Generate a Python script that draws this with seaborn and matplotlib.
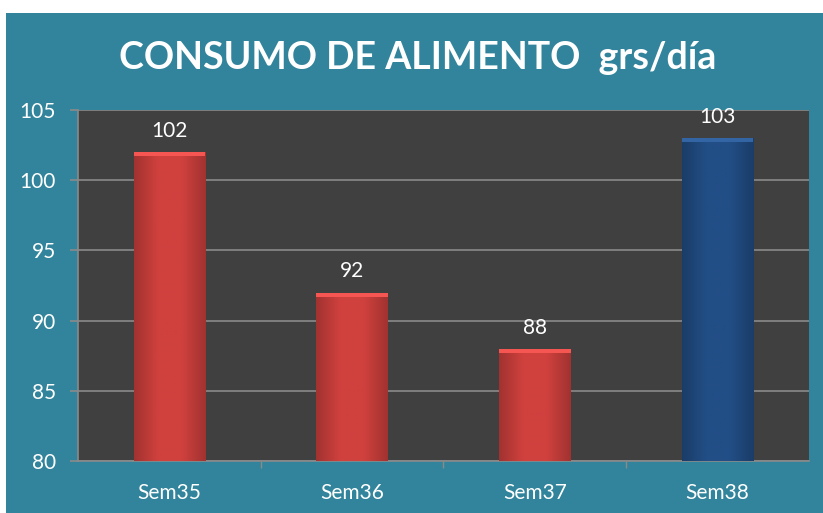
import numpy as np
import pandas as pd
import matplotlib
matplotlib.use("Agg")
import matplotlib.pyplot as plt
import seaborn as sns
from matplotlib.patches import Rectangle
from matplotlib.colors import LinearSegmentedColormap

# --- DATA ---
semanas = ["Sem35", "Sem36", "Sem37", "Sem38"]
consumo = [102, 92, 88, 103]
colores = ["#D0413E", "#D0413E", "#D0413E", "#224E86"]
y_ticks = [80, 85, 90, 95, 100, 105]

TEAL = "#31849B"
PLOT_BG = "#404040"

sns.set_style("dark")
plt.rcParams["font.family"] = ["Lato", "DejaVu Sans"]

df = pd.DataFrame({"Semana": semanas, "Consumo": consumo})

fig = plt.figure(figsize=(8.23, 5.13), dpi=100, facecolor="white")
# teal panel (white strip at top and left as in the source)
fig.patches.append(Rectangle((6 / 823, 0), 1, 1 - 13 / 513, transform=fig.transFigure,
                             facecolor=TEAL, edgecolor="none", zorder=-10))

ax = fig.add_axes([78 / 823, 1 - 461 / 513, (809 - 78) / 823, (461 - 110) / 513])
ax.set_facecolor(PLOT_BG)

sns.barplot(data=df, x="Semana", y="Consumo", hue="Semana", palette=colores,
            legend=False, width=0.39, ax=ax, zorder=3, edgecolor="none")

# simple shading on bars: lighter top bevel, darker sides
for patch, c in zip(ax.patches, colores):
    x0, y0 = patch.get_x(), 80
    w, h = patch.get_width(), patch.get_height()
    base = np.array(matplotlib.colors.to_rgb(c))
    cmap = LinearSegmentedColormap.from_list("b", [base * 0.78, base, base, base * 0.78])
    grad = np.linspace(0, 1, 64)[None, :]
    im = ax.imshow(grad, extent=[x0, x0 + w, y0, patch.get_height()], aspect="auto",
                   cmap=cmap, zorder=3, interpolation="bicubic")
    im.set_clip_path(patch)
    ax.add_patch(Rectangle((x0, patch.get_height() - 0.3), w, 0.3,
                           facecolor=np.clip(base * 1.12 + 0.05, 0, 1), edgecolor="none", zorder=4))
    ax.annotate(f"{patch.get_height():.0f}", (x0 + w / 2, patch.get_height()),
                xytext=(0, 8), textcoords="offset points", ha="center", va="bottom",
                color="white", fontsize=15)

ax.set_xlim(-0.5, len(semanas) - 0.5)
ax.set_ylim(80, 105)
ax.set_yticks(y_ticks)
ax.yaxis.grid(True, color="#8A8A8A", linewidth=1.2, zorder=1)
ax.xaxis.grid(False)
ax.set_axisbelow(True)

ax.set_xlabel("")
ax.set_ylabel("")
ax.tick_params(axis="y", colors="#8A8A8A", labelcolor="white", labelsize=15,
               length=6, width=1.2, pad=10, left=True)
ax.tick_params(axis="x", labelcolor="white", labelsize=15, length=0, pad=16)
ax.set_xticks(np.arange(0.5, len(semanas) - 0.5), minor=True)
ax.tick_params(axis="x", which="minor", bottom=True, length=5, width=1, color="#8A8A8A")

for s in ["top", "right"]:
    ax.spines[s].set_visible(False)
for s in ["left", "bottom"]:
    ax.spines[s].set_color("#8A8A8A")
    ax.spines[s].set_linewidth(1.2)

fig.text(418 / 823, 1 - 58 / 513, "CONSUMO DE ALIMENTO  grs/día", ha="center", va="center",
         color="white", fontsize=27, fontweight="bold")

fig.savefig("out.png", dpi=100, facecolor=fig.get_facecolor())
